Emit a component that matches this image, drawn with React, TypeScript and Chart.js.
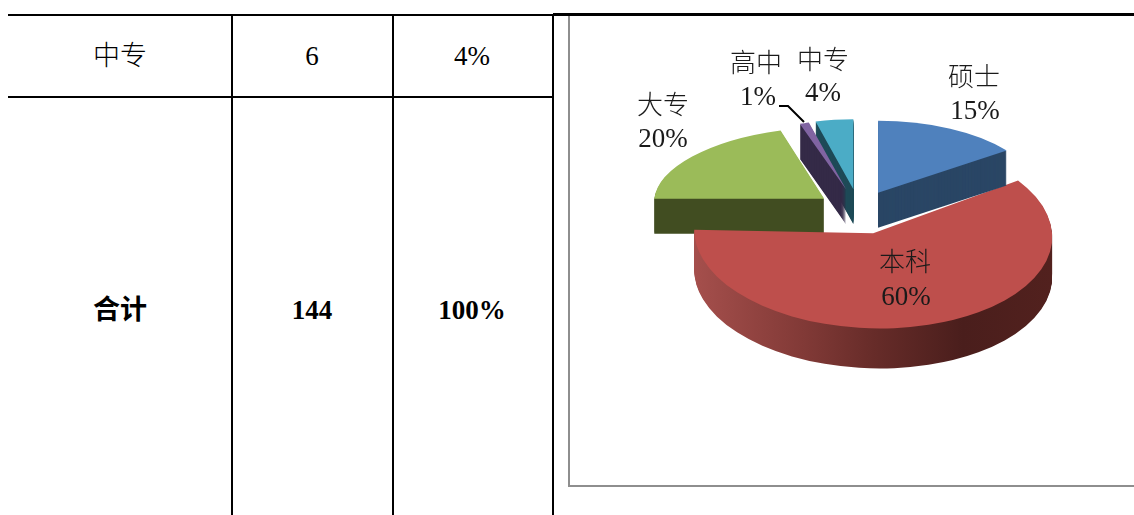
import React, { useEffect, useRef } from "react";
import { Chart, registerables } from "chart.js";

Chart.register(...registerables);

// ---- data ----
const categories = ["硕士", "本科", "大专", "高中", "中专"];
const shares = [15, 60, 20, 1, 4];
const tableRows = [
  ["中专", "6", "4%"],
  ["合计", "144", "100%"],
];

// ---- styling ----
const topColors = ["#4F81BD", "#BE4F4C", "#9BBB59", "#8064A2", "#4BACC6"];
const wallColors = ["#2A4665", "", "#424D22", "#342A47", "#1E4A57"];
const redWallStops: [number, string][] = [
  [0, "#A54F4C"],
  [0.3, "#823A37"],
  [0.5, "#672C29"],
  [0.75, "#4A1E1C"],
  [1, "#52211E"],
];
const explode = [42, 46, 43, 46, 45];
const tilt = 0.5;
const views = [
  { rx: 159, ry: 72, shearX: 0, shearY: 0, depth: 35 },
  { rx: 179, ry: 95, shearX: 0, shearY: 0.02, depth: 40 },
  { rx: 170, ry: 72, shearX: -0.13, shearY: 0, depth: 35 },
  { rx: 150, ry: 69, shearX: 0, shearY: 0, depth: 35 },
  { rx: 152, ry: 70, shearX: 0, shearY: 0, depth: 35 },
];
const drawOrder = [2, 4, 3, 1, 0];
const labelAnchors = [
  [974, 79, 975, 112],
  [905, 264, 906, 298],
  [663, 107, 663, 140],
  [756, 65, 758, 98],
  [823, 62, 823, 94],
];
const leader = [
  [779, 106],
  [788, 106],
  [804, 122],
];
const canvasLeft = 570;
const canvasTop = 16;
const canvasWidth = 564;
const canvasHeight = 469;
const font = '"Liberation Serif", "Noto Sans CJK SC", serif';

const pie3d = {
  id: "pie3d",
  beforeDatasetsDraw(chart: any) {
    const ctx: CanvasRenderingContext2D = chart.ctx;
    const arcs = chart.getDatasetMeta(0).data;
    const place = (arc: any, i: number, dy: number) => {
      const v = views[i];
      const mid = (arc.startAngle + arc.endAngle) / 2;
      const R = arc.outerRadius;
      const sx = v.rx / R;
      const sy = v.ry / R;
      ctx.translate(
        arc.x + explode[i] * Math.cos(mid),
        arc.y + explode[i] * Math.sin(mid) * tilt + dy
      );
      ctx.transform(sx, v.shearY * sx, v.shearX * sy, sy, 0, 0);
      ctx.translate(-arc.x, -arc.y);
    };
    for (const i of drawOrder) {
      const arc = arcs[i];
      const base = arc.options;
      let wall: any = wallColors[i];
      if (!wall) {
        const R = arc.outerRadius;
        wall = ctx.createLinearGradient(arc.x - R, 0, arc.x + R, 0);
        redWallStops.forEach(([t, c]) => wall.addColorStop(t, c));
      }
      arc.options = Object.assign({}, base, { backgroundColor: wall });
      for (let d = views[i].depth; d >= 1; d--) {
        ctx.save();
        place(arc, i, d);
        arc.draw(ctx);
        ctx.restore();
      }
      arc.options = base;
      ctx.save();
      place(arc, i, 0);
      arc.draw(ctx);
      ctx.restore();
    }
    // labels and the leader line, in page coordinates
    ctx.save();
    ctx.translate(-canvasLeft, -canvasTop);
    ctx.strokeStyle = "#000";
    ctx.lineWidth = 2;
    ctx.beginPath();
    leader.forEach(([x, y], k) => (k ? ctx.lineTo(x, y) : ctx.moveTo(x, y)));
    ctx.stroke();
    ctx.fillStyle = "#1a1a1a";
    ctx.textAlign = "center";
    ctx.textBaseline = "middle";
    categories.forEach((name, i) => {
      const [x1, y1, x2, y2] = labelAnchors[i];
      ctx.font = `300 26px ${font}`;
      ctx.fillText(name, x1, y1);
      ctx.font = `27px ${font}`;
      ctx.fillText(`${shares[i]}%`, x2, y2);
    });
    ctx.restore();
    return false;
  },
};

const line = (left: number, top: number, width: number, height: number, color = "#000") => (
  <div style={{ position: "absolute", left, top, width, height, background: color }} />
);

const cell = (text: string, cx: number, cy: number, bold: boolean, light: boolean) => (
  <div
    key={text}
    style={{
      position: "absolute",
      left: cx - 80,
      top: cy - 20,
      width: 160,
      height: 40,
      lineHeight: "40px",
      textAlign: "center",
      fontFamily: font,
      fontSize: 27,
      fontWeight: bold ? 700 : light ? 300 : 400,
      color: "#000",
    }}
  >
    {text}
  </div>
);

export default function App() {
  const ref = useRef<HTMLCanvasElement>(null);
  useEffect(() => {
    const chart = new Chart(ref.current as HTMLCanvasElement, {
      type: "pie",
      data: {
        labels: categories,
        datasets: [
          {
            data: shares,
            backgroundColor: topColors,
            borderWidth: 0,
            radius: 160,
          } as any,
        ],
      },
      options: {
        responsive: false,
        animation: false,
        layout: { padding: { left: 14, bottom: 78, top: 0, right: 0 } },
        plugins: { legend: { display: false }, tooltip: { enabled: false } },
      },
      plugins: [pie3d as any],
    });
    return () => chart.destroy();
  }, []);

  const xs = [120, 312, 472];
  return (
    <div style={{ position: "absolute", left: 0, top: 0, width: 1134, height: 515, overflow: "hidden", background: "#fff" }}>
      {line(8, 14, 546, 2)}
      {line(553, 13, 581, 3)}
      {line(8, 96, 545, 2)}
      {line(231, 14, 2, 501)}
      {line(392, 14, 2, 501)}
      {line(552, 14, 2, 501)}
      {line(568, 16, 2, 471, "#8E8E8E")}
      {line(568, 485, 566, 2, "#8E8E8E")}
      {tableRows[0].map((t, i) => cell(t, xs[i], 56, false, i === 0))}
      {tableRows[1].map((t, i) => cell(t, xs[i], 310, true, false))}
      <canvas
        ref={ref}
        width={canvasWidth}
        height={canvasHeight}
        style={{ position: "absolute", left: canvasLeft, top: canvasTop, width: canvasWidth, height: canvasHeight }}
      />
    </div>
  );
}
